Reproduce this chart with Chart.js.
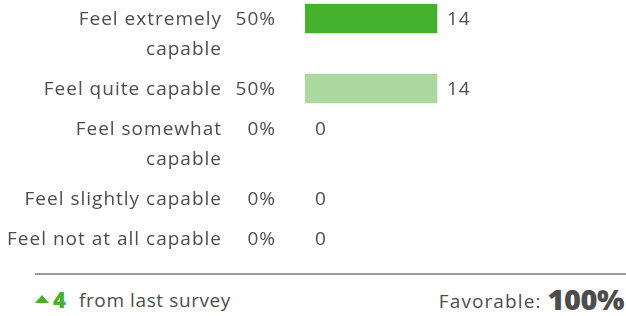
<!DOCTYPE html>
<html><head><meta charset="utf-8">
<script src="https://cdn.jsdelivr.net/npm/chart.js@4/dist/chart.umd.min.js"></script>
<style>
html,body{margin:0;padding:0;background:#fff;}
#wrap{position:relative;width:626px;height:316px;overflow:hidden;font-family:"Open Sans",Lato,sans-serif;color:#4d4d4d;}
#c{position:absolute;left:0;top:0;}
.sep{position:absolute;left:35px;top:273px;width:591px;height:2px;background:#9b9b9b;}
.tri{position:absolute;left:35px;top:295px;width:0;height:0;border-left:7px solid transparent;border-right:7px solid transparent;border-bottom:8px solid #46b12f;}
.delta{position:absolute;left:53px;top:285px;font-size:22px;font-weight:800;color:#46b12f;line-height:28px;}
.from{position:absolute;left:79px;top:286px;font-size:19px;line-height:28px;letter-spacing:0.6px;}
.fav{position:absolute;right:2px;top:282px;font-size:19px;line-height:34px;white-space:nowrap;letter-spacing:1.1px;}
.fav b{font-size:29px;font-weight:800;vertical-align:-2px;margin-left:6px;letter-spacing:-0.5px;}
</style></head>
<body>
<div id="wrap">
<canvas id="c" width="626" height="262"></canvas>
<div class="sep"></div>
<div class="tri"></div>
<div class="delta" id="delta"></div>
<div class="from">from last survey</div>
<div class="fav" id="fav"></div>
</div>
<script>
// ---- data ----
const categories = [
  ["Feel extremely", "capable"],
  ["Feel quite capable"],
  ["Feel somewhat", "capable"],
  ["Feel slightly capable"],
  ["Feel not at all capable"]
];
const percents = ["50%", "50%", "0%", "0%", "0%"];
const counts = [14, 14, 0, 0, 0];
const totalResponses = 28;
const changeFromLast = 4;
const favorable = "100%";

// ---- styling ----
const barColors = ["#46b12f", "#acd8a0", "#d9eed3", "#e8e8e8", "#d0d0d0"];
const textColor = "#4d4d4d";
const FONT = "19px 'Open Sans', Lato, sans-serif";
const LINE = 30, GAP = 10;

document.getElementById("delta").textContent = changeFromLast;
document.getElementById("fav").innerHTML = "Favorable:<b>" + favorable + "</b>";

// row positions (in line units) from label line counts
const gapU = GAP / LINE;
const rowPos = [];
let acc = 0;
categories.forEach((lines, i) => {
  rowPos.push(acc + 0.5);
  acc += lines.length + (i < categories.length - 1 ? gapU : 0);
});
const totalUnits = acc;

const labelPlugin = {
  id: "rowLabels",
  afterDatasetsDraw(chart) {
    const ctx = chart.ctx;
    const ys = chart.scales.y, xs = chart.scales.x;
    ctx.save();
    ctx.font = FONT;
    ctx.letterSpacing = "1px";
    ctx.fillStyle = textColor;
    ctx.textBaseline = "middle";
    categories.forEach((lines, i) => {
      const y = ys.getPixelForValue(rowPos[i]) + 1.5;
      ctx.textAlign = "right";
      lines.forEach((ln, k) => ctx.fillText(ln, 222, y + k * LINE));
      ctx.fillText(percents[i], 276, y);
      ctx.textAlign = "left";
      ctx.fillText(String(counts[i]), xs.getPixelForValue(counts[i]) + 10, y);
    });
    ctx.restore();
  }
};

new Chart(document.getElementById("c"), {
  type: "bar",
  data: {
    datasets: [{
      data: counts.map((v, i) => ({ x: v, y: rowPos[i] })),
      backgroundColor: c => counts[c.dataIndex] > 0 ? barColors[c.dataIndex] : "rgba(0,0,0,0)",
      barThickness: 29,
      borderWidth: 0
    }]
  },
  options: {
    indexAxis: "y",
    responsive: false,
    animation: false,
    layout: { padding: { left: 305, right: 57, top: 3.5, bottom: 262 - 253.5 } },
    scales: {
      x: { type: "linear", min: 0, max: totalResponses, display: false },
      y: { type: "linear", min: 0, max: totalUnits, reverse: true, offset: false, display: false }
    },
    plugins: { legend: { display: false }, tooltip: { enabled: false } }
  },
  plugins: [labelPlugin]
});
</script>
</body></html>
